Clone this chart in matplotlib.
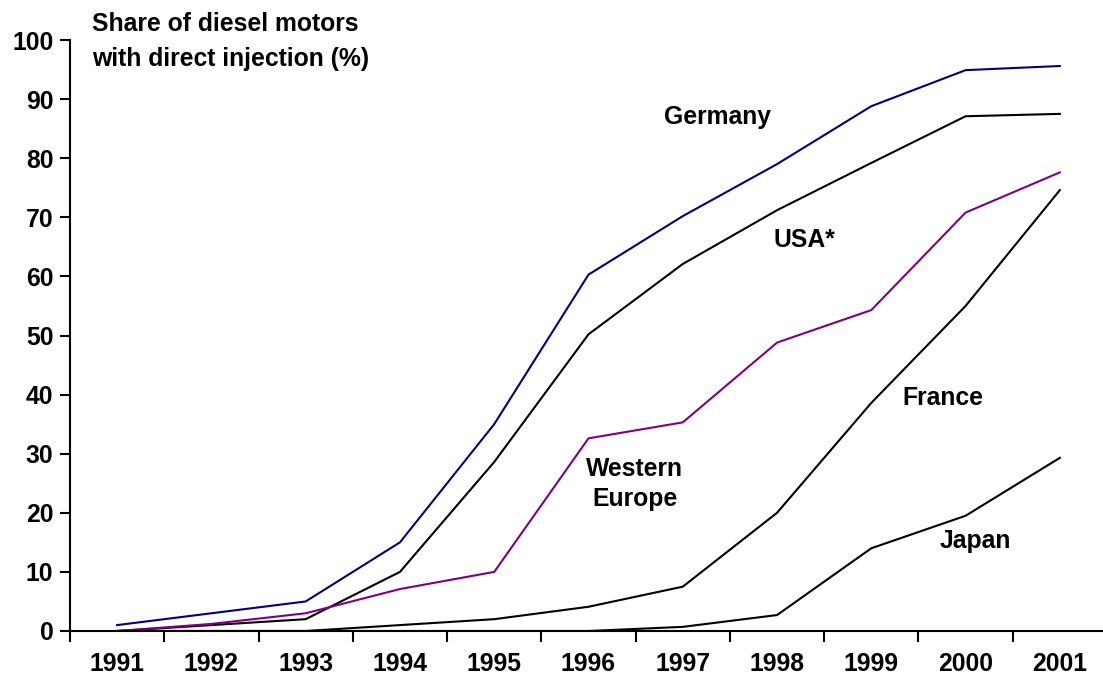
import matplotlib.pyplot as plt
import numpy as np

years = ['1991', '1992', '1993', '1994', '1995', '1996', '1997', '1998', '1999', '2000', '2001']
germany = [1, 3, 5, 15, 35, 60.3, 70.2, 79, 88.8, 94.9, 95.6]
usa = [0, 1, 2, 10, 28.6, 50.2, 62.1, 71.2, 79.2, 87.1, 87.5]
western_europe = [0, 1.2, 3, 7.1, 10, 32.6, 35.3, 48.8, 54.3, 70.8, 77.6]
france = [0, 0, 0, 1, 2, 4.1, 7.5, 20, 38.6, 55, 74.6]
japan = [0, 0, 0, 0, 0, 0, 0.7, 2.7, 14, 19.5, 29.3]

plt.rcParams['font.family'] = ['Liberation Sans', 'DejaVu Sans']
plt.rcParams['font.weight'] = 'bold'
fs = 17.8

fig = plt.figure(figsize=(11.03, 6.82), dpi=100)
ax = fig.add_axes([70 / 1103, 51 / 682, 1037 / 1103, 591 / 682])

x = np.arange(len(years))
ax.plot(x, germany, color='#000080', lw=1.5)
ax.plot(x, usa, color='black', lw=1.5)
ax.plot(x, western_europe, color='#800080', lw=1.5)
ax.plot(x, france, color='black', lw=1.5)
ax.plot(x, japan, color='black', lw=1.5)

ax.set_xlim(-0.5, 10.5)
ax.set_ylim(0, 100)
ax.set_yticks(np.arange(0, 101, 10))
ax.set_xticks(x)
ax.set_xticklabels(years)
ax.set_xticks(np.arange(-0.5, 10.5, 1), minor=True)
ax.tick_params(axis='x', which='major', length=0, pad=15, labelsize=fs)
ax.tick_params(axis='x', which='minor', length=8, width=1.5, direction='out')
ax.tick_params(axis='y', length=7, width=1.5, direction='out', pad=5, labelsize=fs)
for lab in ax.get_xticklabels() + ax.get_yticklabels():
    lab.set_fontweight('bold')

for s in ['top', 'right']:
    ax.spines[s].set_visible(False)
for s in ['left', 'bottom']:
    ax.spines[s].set_linewidth(1.5)
ax.spines['bottom'].set_zorder(0)

ax.text(6.37, 87.0, 'Germany', fontsize=fs, fontweight='bold', ha='center', va='center')
ax.text(7.29, 66.2, 'USA*', fontsize=fs, fontweight='bold', ha='center', va='center')
ax.text(5.49, 24.9, 'Western\nEurope', fontsize=fs, fontweight='bold', ha='center', va='center',
        linespacing=1.3)
ax.text(8.76, 39.4, 'France', fontsize=fs, fontweight='bold', ha='center', va='center')
ax.text(9.10, 15.2, 'Japan', fontsize=fs, fontweight='bold', ha='center', va='center')

fig.text(92 / 1103, 1 - 12 / 682, 'Share of diesel motors\nwith direct injection (%)',
         fontsize=fs, fontweight='bold', ha='left', va='top', linespacing=1.6)

fig.savefig('out.png', dpi=100)
